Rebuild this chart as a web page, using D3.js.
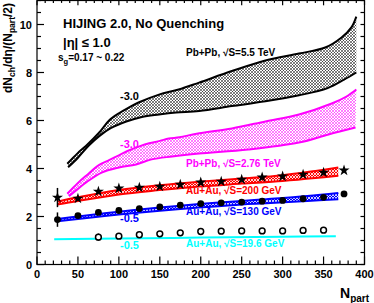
<!DOCTYPE html>
<html lang="en">
<head>
<meta charset="utf-8" />
<title>HIJING 2.0 multiplicity</title>
<script src="https://cdn.jsdelivr.net/npm/d3@7"></script>
<style>
  body { margin: 0; background: #fff; }
  text { font-family: "Liberation Sans", Arial, sans-serif; font-weight: bold; }
</style>
</head>
<body>
<script>
// ---- data ----
// Pb+Pb 5.5 TeV band (black)
var pb55UpN = [37, 50, 60, 76, 88, 100, 112, 124, 149, 173, 198, 238, 279, 320, 352, 372, 384, 390];
var pb55UpV = [4.2, 4.65, 4.95, 5.5, 6.0, 6.3, 6.54, 6.75, 7.08, 7.29, 7.58, 8.06, 8.5, 8.79, 9.04, 9.46, 9.88, 10.33];
var pb55LoN = [38, 50, 63, 76, 90, 109, 128, 149, 170, 198, 238, 279, 320, 355, 375, 390];
var pb55LoV = [4.05, 4.45, 4.95, 5.35, 5.68, 5.96, 6.15, 6.25, 6.33, 6.4, 6.6, 6.8, 7.05, 7.35, 7.7, 8.0];
// Pb+Pb 2.76 TeV band (magenta)
var pb276UpN = [37, 50, 60, 76, 88, 100, 112, 125, 137, 150, 161, 174, 195, 238, 279, 320, 360, 378, 390];
var pb276UpV = [2.95, 3.4, 3.7, 4.15, 4.35, 4.55, 4.75, 4.92, 5.05, 5.15, 5.25, 5.3, 5.45, 5.67, 5.96, 6.25, 6.71, 7.0, 7.29];
var pb276LoN = [39, 50, 60, 79, 100, 121, 140, 165, 198, 258, 320, 356, 389];
var pb276LoV = [2.85, 3.15, 3.42, 3.83, 4.04, 4.17, 4.38, 4.5, 4.62, 4.79, 5.08, 5.42, 5.71];
// Au+Au 200 GeV band (red)
var au200N = [25, 50, 100, 150, 198, 250, 300, 340, 368];
var au200Lo = [2.5, 2.65, 2.92, 3.1, 3.25, 3.37, 3.48, 3.6, 3.7];
var au200Up = [2.62, 2.8, 3.1, 3.3, 3.45, 3.58, 3.72, 3.9, 4.04];
// Au+Au 130 GeV band (blue)
var au130N = [25, 50, 100, 150, 198, 250, 280, 330, 368];
var au130Lo = [1.8, 1.9, 2.08, 2.24, 2.37, 2.5, 2.55, 2.65, 2.72];
var au130Up = [1.9, 2.0, 2.2, 2.37, 2.52, 2.65, 2.72, 2.85, 2.98];
// Au+Au 19.6 GeV line (cyan)
var au19N = [21, 100, 200, 300, 365];
var au19V = [1.05, 1.08, 1.12, 1.16, 1.18];

// data points
var starN = [25, 50, 75, 100, 125, 150, 175, 200, 225, 250, 275, 300, 325, 350, 375];
var starV = [2.79, 2.75, 3.04, 3.17, 3.21, 3.25, 3.33, 3.42, 3.46, 3.54, 3.63, 3.67, 3.75, 3.83, 3.92];
var starE = [0.4, 0, 0, 0, 0, 0, 0, 0, 0, 0, 0, 0, 0, 0, 0];
var dotN = [25, 50, 75, 100, 125, 150, 175, 200, 225, 250, 275, 300, 325, 350, 375];
var dotV = [1.87, 2.04, 2.17, 2.25, 2.33, 2.4, 2.47, 2.54, 2.57, 2.6, 2.64, 2.67, 2.74, 2.8, 2.94];
var dotE = [0.3, 0, 0, 0, 0, 0, 0, 0, 0, 0, 0, 0, 0, 0, 0];
var ringN = [75, 100, 125, 150, 175, 200, 225, 250, 275, 300, 325, 350];
var ringV = [1.14, 1.18, 1.24, 1.28, 1.32, 1.375, 1.39, 1.4, 1.4, 1.4, 1.42, 1.43];
var ringE = [0.15, 0, 0, 0, 0, 0, 0, 0, 0, 0, 0, 0];

var xTicks = [0, 50, 100, 150, 200, 250, 300, 350, 400];
var yTicks = [0, 2, 4, 6, 8, 10];

var w = 374, h = 303;
var padL = 37, padR = 364.5, padT = 0.5, padB = 264.5;

var x = d3.scaleLinear().domain([0, 400]).range([padL, padR]);
var y = d3.scaleLinear().domain([0, 11]).range([padB, padT]);

var svg = d3.select("body").append("svg").attr("width", w).attr("height", h);

// hatch patterns
var defs = svg.append("defs");
function hatch(id, color, bg, sw) {
    var p = defs.append("pattern").attr("id", id).attr("patternUnits", "userSpaceOnUse")
        .attr("width", 3).attr("height", 3);
    if (bg) p.append("rect").attr("width", 3).attr("height", 3).attr("fill", bg);
    p.append("path").attr("d", "M0,0L3,3M3,0L0,3").attr("stroke", color).attr("stroke-width", sw);
}
hatch("hBlack", "#000", "#fff", 0.5);
hatch("hMag", "#f0f", "#fff", 0.5);
hatch("hRed", "#fff", "#f00", 0.8);
hatch("hBlue", "#fff", "#00f", 0.8);

function pts(ns, vs) { return ns.map(function(n, i) { return [x(n), y(vs[i])]; }); }
var line = d3.line().curve(d3.curveCatmullRom);

function band(upN, upV, loN, loV, fill, stroke, sw) {
    var up = pts(upN, upV), lo = pts(loN, loV);
    var d = line(up) + "L" + line(lo.slice().reverse()).slice(1) + "Z";
    svg.append("path").attr("d", d).attr("fill", fill).attr("stroke", "none");
    svg.append("path").attr("d", line(up)).attr("fill", "none").attr("stroke", stroke).attr("stroke-width", sw);
    svg.append("path").attr("d", line(lo)).attr("fill", "none").attr("stroke", stroke).attr("stroke-width", sw);
}

band(pb55UpN, pb55UpV, pb55LoN, pb55LoV, "url(#hBlack)", "#000", 2);
band(pb276UpN, pb276UpV, pb276LoN, pb276LoV, "url(#hMag)", "#f0f", 2);
band(au200N, au200Up, au200N, au200Lo, "url(#hRed)", "#f00", 2);
band(au130N, au130Up, au130N, au130Lo, "url(#hBlue)", "#00f", 2);

svg.append("path").attr("d", line(pts(au19N, au19V)))
    .attr("fill", "none").attr("stroke", "#0ff").attr("stroke-width", 2);

// error bars
function errs(ns, vs, es) {
    ns.forEach(function(n, i) {
        if (!es[i]) return;
        svg.append("line").attr("x1", x(n)).attr("x2", x(n))
            .attr("y1", y(vs[i] - es[i])).attr("y2", y(vs[i] + es[i]))
            .attr("stroke", "#000").attr("stroke-width", 1.5);
    });
}
errs(starN, starV, starE);
errs(dotN, dotV, dotE);
errs(ringN, ringV, ringE);

var star = d3.symbol().type(d3.symbolStar).size(38);
svg.selectAll("path.star").data(starN).enter().append("path").attr("class", "star")
    .attr("d", star)
    .attr("transform", function(d, i) { return "translate(" + x(d) + "," + y(starV[i]) + ")"; })
    .attr("fill", "#000");

svg.selectAll("circle.dot").data(dotN).enter().append("circle").attr("class", "dot")
    .attr("cx", function(d) { return x(d); })
    .attr("cy", function(d, i) { return y(dotV[i]); })
    .attr("r", 3.4).attr("fill", "#000");

svg.selectAll("circle.ring").data(ringN).enter().append("circle").attr("class", "ring")
    .attr("cx", function(d) { return x(d); })
    .attr("cy", function(d, i) { return y(ringV[i]); })
    .attr("r", 2.9).attr("fill", "#fff").attr("stroke", "#000").attr("stroke-width", 1.5);

// frame and ticks
var frame = svg.append("g").attr("stroke", "#000").attr("stroke-width", 1.2);
frame.append("rect").attr("x", padL).attr("y", padT).attr("width", padR - padL).attr("height", padB - padT)
    .attr("fill", "none");
d3.range(0, 401, 10).forEach(function(t) {
    var major = t % 50 === 0;
    var len = major ? 8 : 4;
    frame.append("line").attr("x1", x(t)).attr("x2", x(t)).attr("y1", padB).attr("y2", padB - len);
    frame.append("line").attr("x1", x(t)).attr("x2", x(t)).attr("y1", padT).attr("y2", padT + len * 0.6);
});
d3.range(0, 11.01, 0.5).forEach(function(t) {
    var major = t % 2 === 0;
    var len = major ? 7 : 4;
    frame.append("line").attr("x1", padL).attr("x2", padL + len).attr("y1", y(t)).attr("y2", y(t));
    frame.append("line").attr("x1", padR).attr("x2", padR - 4).attr("y1", y(t)).attr("y2", y(t));
});

svg.selectAll("text.xt").data(xTicks).enter().append("text").attr("class", "xt")
    .attr("x", function(d) { return x(d); }).attr("y", 278)
    .attr("text-anchor", "middle").attr("font-size", 11).text(function(d) { return d; });
svg.selectAll("text.yt").data(yTicks).enter().append("text").attr("class", "yt")
    .attr("x", 32).attr("y", function(d) { return y(d) + 4; })
    .attr("text-anchor", "end").attr("font-size", 11).text(function(d) { return d; });

// axis titles
var yt = svg.append("text").attr("transform", "translate(12,3) rotate(-90)")
    .attr("text-anchor", "end").attr("font-size", 12);
yt.append("tspan").text("dN");
yt.append("tspan").attr("font-size", 8.5).attr("dy", 3).text("ch");
yt.append("tspan").attr("dy", -3).text("/d\u03b7/(N");
yt.append("tspan").attr("font-size", 8.5).attr("dy", 3).text("part");
yt.append("tspan").attr("dy", -3).text("/2)");

var xt = svg.append("text").attr("x", 340).attr("y", 298).attr("font-size", 14);
xt.append("tspan").text("N");
xt.append("tspan").attr("font-size", 10).attr("dy", 4).text("part");

// annotations
svg.append("text").attr("x", 63).attr("y", 28).attr("font-size", 13).text("HIJING 2.0, No Quenching");
svg.append("text").attr("x", 63).attr("y", 47).attr("font-size", 13).text("|\u03b7| \u2264 1.0");
var sg = svg.append("text").attr("x", 58).attr("y", 61).attr("font-size", 10);
sg.append("tspan").text("s");
sg.append("tspan").attr("font-size", 7.5).attr("dy", 3).text("g");
sg.append("tspan").attr("dy", -3).text("=0.17 ~ 0.22");

function label(tx, ty, txt, col) {
    svg.append("text").attr("x", tx).attr("y", ty).attr("font-size", 10).attr("fill", col).text(txt);
}
label(186, 56, "Pb+Pb, \u221aS=5.5 TeV", "#000");
label(186, 167, "Pb+Pb, \u221aS=2.76 TeV", "#f0f");
label(186, 194, "Au+Au, \u221aS=200 GeV", "#f00");
label(186, 215, "Au+Au, \u221aS=130 GeV", "#00f");
label(186, 247, "Au+Au, \u221aS=19.6 GeV", "#0ff");

function sLabel(tx, ty, txt, col) {
    svg.append("text").attr("x", tx).attr("y", ty).attr("font-size", 11).attr("fill", col).text(txt);
}
sLabel(120, 100, "-3.0", "#000");
sLabel(120, 148, "-3.0", "#f0f");
sLabel(120, 222, "-0.5", "#00f");
sLabel(120, 249, "-0.5", "#0ff");
</script>
</body>
</html>
